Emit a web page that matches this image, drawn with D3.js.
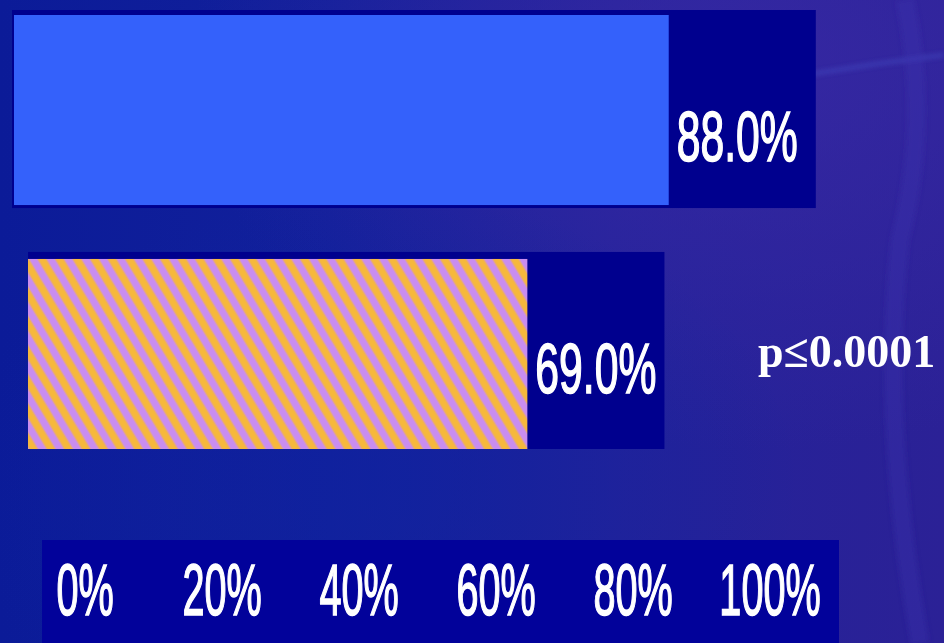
<!DOCTYPE html>
<html>
<head>
<meta charset="utf-8">
<script src="https://cdn.jsdelivr.net/npm/d3@7/dist/d3.min.js"></script>
<style>
  html, body { margin: 0; padding: 0; overflow: hidden; background: #0f1f9a; }
  svg { display: block; }
</style>
</head>
<body>
<svg id="chart" width="944" height="643"></svg>
<script>
// ---- data ----
const categories = ["Group A", "Group B"];
const values = [88.0, 69.0];
const tickValues = [0, 20, 40, 60, 80, 100];
const tickLabels = ["0%", "20%", "40%", "60%", "80%", "100%"];
const pValueText = "p≤0.0001";

// ---- layout ----
const W = 944, H = 643;
const svg = d3.select("#chart");
const defs = svg.append("defs");

// background: blue to violet sweep with soft arcs
const bg = defs.append("linearGradient").attr("id", "bgGrad")
  .attr("x1", "0%").attr("y1", "0%").attr("x2", "100%").attr("y2", "0%");
[["0%", "#0b1b98"], ["35%", "#12209b"], ["65%", "#23229a"], ["100%", "#2b2196"]]
  .forEach(([o, c]) => bg.append("stop").attr("offset", o).attr("stop-color", c));

const glow = defs.append("radialGradient").attr("id", "glowGrad")
  .attr("cx", "80%").attr("cy", "10%").attr("r", "60%");
glow.append("stop").attr("offset", "0%").attr("stop-color", "#3a2aa6").attr("stop-opacity", 0.7);
glow.append("stop").attr("offset", "100%").attr("stop-color", "#3a2aa6").attr("stop-opacity", 0);

const lowBand = defs.append("radialGradient").attr("id", "lowGrad")
  .attr("cx", "40%").attr("cy", "75%").attr("r", "45%");
lowBand.append("stop").attr("offset", "0%").attr("stop-color", "#0e22a0").attr("stop-opacity", 0.6);
lowBand.append("stop").attr("offset", "100%").attr("stop-color", "#0e22a0").attr("stop-opacity", 0);

svg.append("rect").attr("width", W).attr("height", H).attr("fill", "url(#bgGrad)");
svg.append("rect").attr("width", W).attr("height", H).attr("fill", "url(#glowGrad)");
svg.append("rect").attr("width", W).attr("height", H).attr("fill", "url(#lowGrad)");

const blur = defs.append("filter").attr("id", "soft").attr("x", "-20%").attr("y", "-20%")
  .attr("width", "140%").attr("height", "140%");
blur.append("feGaussianBlur").attr("stdDeviation", 2.5);

const arcs = svg.append("g").attr("fill", "none").attr("filter", "url(#soft)");
arcs.append("path").attr("d", "M 700 95 Q 820 70 944 55")
  .attr("stroke", "#4a5ad0").attr("stroke-width", 3).attr("opacity", 0.55);
arcs.append("path").attr("d", "M 905 0 Q 930 120 900 240 Q 880 420 920 643")
  .attr("stroke", "#4030b0").attr("stroke-width", 18).attr("opacity", 0.35);

// striped fill for the second bar
const stripeGrad = defs.append("linearGradient").attr("id", "stripeGrad")
  .attr("x1", "0%").attr("y1", "0%").attr("x2", "100%").attr("y2", "0%");
[["0%", "#c98df0"], ["18%", "#c98df0"], ["32%", "#f6b83c"], ["68%", "#f6b83c"], ["82%", "#c98df0"], ["100%", "#c98df0"]]
  .forEach(([o, c]) => stripeGrad.append("stop").attr("offset", o).attr("stop-color", c));

const period = 15;
const pattern = defs.append("pattern").attr("id", "stripes")
  .attr("patternUnits", "userSpaceOnUse")
  .attr("width", period).attr("height", period)
  .attr("patternTransform", "rotate(-31)");
pattern.append("rect").attr("width", period).attr("height", period).attr("fill", "url(#stripeGrad)");

const barFills = ["#3461fb", "url(#stripes)"];

// scales
const x = d3.scaleLinear().domain([0, 100]).range([14, 758]);
const y = d3.scaleBand().domain(categories).range([15, 449]).paddingInner(0.221).paddingOuter(0);
const xTick = d3.scaleLinear().domain([0, 100]).range([85, 770]);

const fmt = v => d3.format(".1f")(v) + "%";

// panel geometry per row (dark backing behind each bar)
const panelLeft = [12, 28];
const panelTopPad = [5, 7];
const panelBottomPad = [3, 0];
const panelRightPad = [18, 8];
const labelDrop = [0.77, 0.705];

// condensed label face, squeezed further so it reads tall and narrow
const labelFont = "'Liberation Sans Narrow', 'Arial Narrow', sans-serif";
const labelSize = 70, labelSqueeze = 0.61;
const textStroke = 1.6;

const rows = svg.append("g").selectAll("g.row")
  .data(categories.map((c, i) => ({ c, v: values[i], i })))
  .join("g").attr("class", "row");

rows.each(function(d) {
  const g = d3.select(this);
  const top = y(d.c), bw = y.bandwidth();
  const labelX = x(d.v) + 8;

  // measure the squeezed label to size the backing panel
  const probe = g.append("text").attr("font-family", labelFont)
    .attr("font-size", labelSize).text(fmt(d.v));
  const labelW = probe.node().getComputedTextLength() * labelSqueeze;
  probe.remove();

  const pL = panelLeft[d.i];
  const pR = labelX + labelW + panelRightPad[d.i];
  const pT = top - panelTopPad[d.i];
  const pB = top + bw + panelBottomPad[d.i];

  g.append("rect").attr("x", pL).attr("y", pT).attr("width", pR - pL).attr("height", pB - pT)
    .attr("fill", "#00008e");

  const clipId = "clip" + d.i;
  defs.append("clipPath").attr("id", clipId)
    .append("rect").attr("x", pL).attr("y", pT).attr("width", pR - pL).attr("height", pB - pT);

  g.append("rect")
    .attr("clip-path", `url(#${clipId})`)
    .attr("x", x(0)).attr("y", top)
    .attr("width", x(d.v) - x(0)).attr("height", bw)
    .attr("fill", barFills[d.i]);

  g.append("g").attr("transform", `translate(${labelX},${top + bw * labelDrop[d.i]})`)
    .append("text")
    .attr("transform", `scale(${labelSqueeze},1)`)
    .attr("font-family", labelFont)
    .attr("font-size", labelSize).attr("fill", "#ffffff")
    .attr("stroke", "#ffffff").attr("stroke-width", textStroke)
    .text(fmt(d.v));
});

// p-value annotation
svg.append("text")
  .attr("x", 758).attr("y", 367)
  .attr("font-family", "'Liberation Serif', 'Times New Roman', serif")
  .attr("font-weight", "bold").attr("font-size", 46).attr("fill", "#ffffff")
  .text(pValueText);

// axis strip
svg.append("rect").attr("x", 42).attr("y", 540).attr("width", 797).attr("height", H - 540)
  .attr("fill", "#02029a");

const axisSize = 72, axisSqueeze = 0.55;
svg.append("g").selectAll("g.tick")
  .data(tickValues.map((t, i) => ({ t, label: tickLabels[i] })))
  .join("g").attr("class", "tick")
  .attr("transform", d => `translate(${xTick(d.t)},615)`)
  .append("text")
  .attr("transform", `scale(${axisSqueeze},1)`)
  .attr("text-anchor", "middle")
  .attr("font-family", labelFont)
  .attr("font-size", axisSize).attr("fill", "#ffffff")
  .attr("stroke", "#ffffff").attr("stroke-width", textStroke)
  .text(d => d.label);
</script>
</body>
</html>
